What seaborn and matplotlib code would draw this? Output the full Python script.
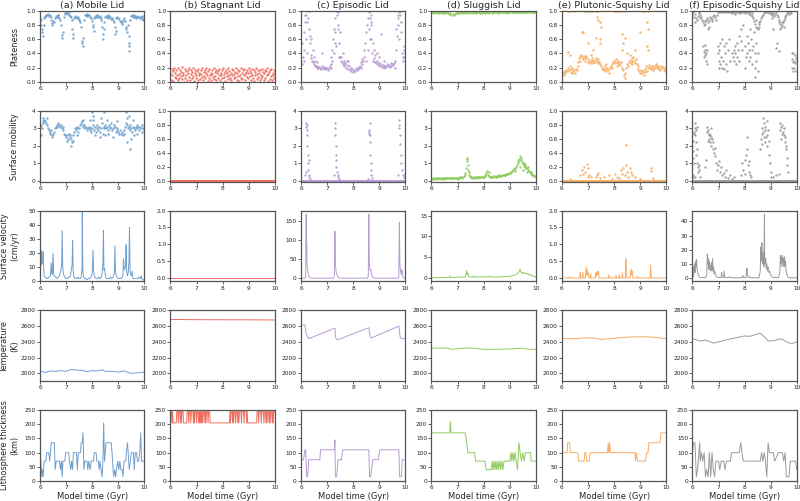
import numpy as np
import seaborn as sns
import matplotlib.pyplot as plt

# regimes and colours
regimes = ["(a) Mobile Lid", "(b) Stagnant Lid", "(c) Episodic Lid",
           "(d) Sluggish Lid", "(e) Plutonic-Squishy Lid", "(f) Episodic-Squishy Lid"]
colors = ["#6f9fce", "#ef6e5e", "#b79bd3", "#8fcb5d", "#f8ad62", "#9a9a9a"]
row_labels = ["Plateness", "Surface mobility", "Surface velocity\n(cm/yr)",
              "Temperature\n(K)", "Lithosphere thickness\n(km)"]

# ---------------- plateness (scatter): band on regular time grid + extra points
plate_mobile = """0.90 0.88 0.75 0.65 0.80 0.90 0.93 0.95 0.94 0.96 0.93 0.95 0.92 0.87 0.83 0.86 0.85 0.90
0.93 0.92 0.94 0.91 0.90 0.88 0.80 0.62 0.70 0.92 0.96 0.97 0.98 0.97 0.96 0.95 0.93 0.92 0.88 0.75
0.62 0.90 0.93 0.92 0.90 0.91 0.89 0.87 0.85 0.78 0.58 0.50 0.88 0.94 0.95 0.94 0.93 0.95 0.94 0.92
0.90 0.86 0.80 0.72 0.90 0.93 0.92 0.94 0.92 0.91 0.93 0.90 0.88 0.78 0.60 0.85 0.92 0.93 0.91 0.92
0.90 0.93 0.91 0.89 0.90 0.87 0.84 0.78 0.68 0.90 0.92 0.90 0.89 0.86 0.84 0.82 0.85 0.88 0.90 0.86
0.74 0.70 0.80 0.55 0.43 0.88 0.93 0.94 0.92 0.93 0.91 0.90 0.92 0.93 0.91 0.92 0.90 0.91 0.89 0.88
0.90 0.91"""
plate_mobile_extra = [(6.05, 0.8), (6.08, 0.7), (6.45, 0.8), (6.85, 0.66), (7.25, 0.68), (7.62, 0.55),
                      (7.65, 0.62), (8.05, 0.78), (8.42, 0.68), (8.44, 0.75), (8.9, 0.72), (9.3, 0.78),
                      (9.42, 0.5), (9.4, 0.65), (6.2, 0.91), (6.7, 0.95), (7.1, 0.98), (7.8, 0.96),
                      (8.2, 0.95), (8.6, 0.94), (9.6, 0.95), (9.9, 0.93)]

plate_stagnant = """0.12 0.03 0.18 0.09 0.15 0.01 0.20 0.07 0.13 0.05 0.17 0.10 0.02 0.19 0.11 0.06 0.16 0.08
0.14 0.04 0.21 0.09 0.12 0.00 0.18 0.06 0.15 0.10 0.03 0.17 0.13 0.07 0.19 0.02 0.11 0.16 0.05 0.14
0.08 0.20 0.01 0.12 0.17 0.06 0.10 0.15 0.03 0.18 0.09 0.13 0.04 0.16 0.11 0.07 0.19 0.02 0.14 0.08
0.17 0.05 0.12 0.20 0.10 0.01 0.15 0.06 0.18 0.09 0.13 0.03 0.16 0.11 0.07 0.19 0.04 0.14 0.08 0.17
0.02 0.12 0.15 0.06 0.10 0.18 0.03 0.13 0.09 0.16 0.05 0.20 0.11 0.07 0.14 0.01 0.17 0.08 0.12 0.04
0.19 0.10 0.15 0.06 0.13 0.02 0.18 0.09 0.16 0.05 0.11 0.14 0.07 0.20 0.03 0.12 0.17 0.08 0.15 0.01
0.10 0.19 0.06 0.13 0.04 0.16 0.09 0.18 0.02 0.11 0.14 0.07 0.17 0.05 0.12 0.20 0.08 0.15 0.03 0.13
0.10 0.18 0.06 0.16 0.01 0.14 0.09 0.19 0.04 0.11 0.17 0.07 0.13 0.02 0.16 0.10 0.05 0.18 0.08 0.14
0.03 0.12 0.17 0.06 0.15 0.09 0.19 0.01 0.11 0.14 0.04 0.16 0.08 0.18 0.02 0.13 0.10 0.06 0.17 0.12"""
plate_stagnant_extra = []

plate_episodic = """0.30 0.25 0.35 0.45 0.70 0.85 0.95 1.00 0.90 0.75 0.55 0.38 0.33 0.30 0.28 0.25 0.22 0.23
0.20 0.22 0.19 0.21 0.20 0.18 0.22 0.20 0.19 0.21 0.18 0.20 0.19 0.17 0.20 0.22 0.35 0.25 0.45 0.60
0.75 0.90 1.00 0.95 0.98 0.80 0.55 0.35 0.30 0.28 0.25 0.30 0.22 0.26 0.20 0.24 0.18 0.22 0.17 0.19
0.15 0.18 0.14 0.17 0.15 0.19 0.16 0.18 0.20 0.21 0.23 0.28 0.32 0.30 0.35 0.45 0.55 0.70 0.80 0.90
0.98 1.00 0.85 0.60 0.40 0.30 0.33 0.28 0.26 0.30 0.25 0.24 0.27 0.22 0.25 0.21 0.24 0.22 0.20 0.23
0.21 0.25 0.22 0.24 0.21 0.26 0.23 0.25 0.24 0.27 0.30 0.45 0.65 0.80 0.90 0.98 0.95 0.70 0.40 0.30
0.45 0.35 0.40"""
plate_episodic_extra = [(6.05, 0.55), (6.1, 0.3), (6.15, 0.95), (6.2, 0.6), (6.22, 0.4), (6.25, 0.85),
                        (6.3, 1.0), (6.35, 0.65), (6.4, 0.6), (6.45, 0.45), (6.5, 0.35), (6.55, 0.3),
                        (6.6, 0.28), (6.8, 0.4), (7.15, 0.2), (7.2, 0.3), (7.25, 0.4), (7.3, 0.55),
                        (7.32, 0.7), (7.35, 0.5), (7.4, 0.75), (7.42, 1.0), (7.45, 0.35), (7.5, 0.7),
                        (7.55, 0.35), (7.6, 0.4), (7.65, 0.25), (7.75, 0.3), (7.8, 0.3), (8.3, 0.2),
                        (8.35, 0.25), (8.5, 0.3), (8.55, 0.45), (8.6, 0.75), (8.63, 0.9), (8.65, 0.6),
                        (8.68, 0.95), (8.7, 0.8), (8.75, 0.55), (8.8, 0.45), (8.85, 0.38), (8.9, 0.4),
                        (9.0, 0.35), (9.05, 0.68), (9.2, 0.3), (9.6, 0.2), (9.65, 0.75), (9.7, 0.95),
                        (9.75, 0.6), (9.8, 1.0), (9.85, 0.85), (9.9, 0.35), (9.95, 0.5), (10.0, 0.3)]

plate_sluggish = """0.97 0.98 0.97 0.98 0.98 0.97 0.98 0.97 0.98 0.98 0.97 0.98 0.97 0.97 0.98 0.98 0.97 0.96
0.97 0.95 0.96 0.95 0.96 0.97 0.97 0.98 0.97 0.98 0.98 0.97 0.98 0.97 0.98 0.98 0.97 0.98 0.98 0.97
0.98 0.97 0.98 0.98 0.97 0.98 0.98 0.98 0.97 0.98 0.97 0.98 0.98 0.97 0.98 0.98 0.97 0.98 0.98 0.97
0.98 0.98 0.99 0.98 0.98 0.97 0.98 0.99 0.98 0.98 0.98 0.99 0.98 0.98 0.97 0.98 0.99 0.98 0.98 0.99
0.98 0.98 0.98 0.99 0.98 0.98 0.99 0.98 0.98 0.98 0.99 0.98 0.98 0.99 0.98 0.98 0.99 0.98 0.98 0.98
0.99 0.98"""
plate_sluggish_extra = []

plate_plutonic = """0.12 0.14 0.10 0.15 0.13 0.17 0.15 0.20 0.16 0.22 0.18 0.14 0.20 0.15 0.17 0.13 0.18 0.16
0.22 0.28 0.33 0.36 0.38 0.35 0.32 0.37 0.34 0.30 0.36 0.33 0.28 0.31 0.26 0.30 0.33 0.29 0.27 0.31
0.28 0.33 0.30 0.27 0.32 0.28 0.25 0.22 0.18 0.20 0.16 0.22 0.18 0.15 0.20 0.17 0.13 0.19 0.23 0.20
0.25 0.28 0.30 0.26 0.32 0.28 0.25 0.30 0.27 0.24 0.28 0.20 0.16 0.10 0.05 0.12 0.20 0.25 0.22 0.28
0.31 0.26 0.33 0.29 0.35 0.30 0.27 0.32 0.25 0.22 0.18 0.15 0.13 0.17 0.12 0.15 0.10 0.14 0.18 0.22
0.15 0.20 0.24 0.21 0.18 0.23 0.20 0.17 0.22 0.19 0.24 0.21 0.18 0.22 0.20 0.17 0.23 0.19 0.21 0.16
0.20 0.15 0.18"""
plate_plutonic_extra = [(6.25, 1.0), (6.28, 1.0), (6.32, 1.0), (6.45, 1.0), (6.48, 1.0), (6.85, 1.0),
                        (6.9, 1.0), (6.95, 1.0), (7.0, 1.0), (7.05, 1.0), (7.1, 1.0), (7.15, 1.0),
                        (7.2, 1.0), (7.3, 1.0), (7.35, 1.0), (7.4, 1.0), (8.0, 1.0), (8.05, 1.0),
                        (8.1, 1.0), (8.15, 1.0), (8.2, 1.0), (8.3, 1.0), (8.4, 1.0), (9.05, 1.0),
                        (9.1, 1.0), (9.15, 1.0), (9.2, 1.0), (9.3, 1.0), (7.35, 0.92), (7.4, 0.88),
                        (7.45, 0.85), (7.5, 0.78), (7.47, 0.6), (7.45, 0.55), (6.8, 0.7), (6.75, 0.7),
                        (6.25, 0.42), (6.3, 0.38), (7.0, 0.55), (7.2, 0.45), (7.3, 0.62), (8.3, 0.68),
                        (8.35, 0.55), (8.4, 0.62), (8.3, 0.45), (8.5, 0.4), (9.25, 0.5), (9.25, 0.85),
                        (9.28, 0.75), (9.0, 0.7), (9.3, 0.45), (8.8, 0.45), (8.6, 0.38), (6.7, 0.3),
                        (7.1, 0.38), (8.1, 0.22), (8.7, 0.25), (9.6, 0.25), (6.4, 0.12), (7.7, 0.25)]

plate_epi_squishy = """0.95 0.98 0.92 0.96 0.90 0.88 0.93 0.97 0.99 0.95 0.92 0.88 0.85 0.80 0.86 0.82 0.88 0.90
0.85 0.88 0.92 0.90 0.86 0.89 0.93 0.95 0.91 0.88 0.95 0.98 1.00 0.99 1.00 0.98 1.00 0.99 1.00 0.98
1.00 0.99 1.00 0.98 1.00 0.99 1.00 0.97 0.99 1.00 0.98 0.96 0.99 1.00 0.98 0.99 1.00 0.97 0.99 1.00
0.98 1.00 0.99 0.97 1.00 0.98 0.99 0.96 0.98 0.95 0.97 0.93 0.90 0.86 0.82 0.78 0.76 0.74 0.78 0.82
0.86 0.90 0.93 0.95 0.97 0.99 1.00 0.98 0.99 1.00 0.97 0.99 0.96 0.98 0.95 0.97 0.93 0.96 0.98 0.95
0.92 0.88 0.85 0.82 0.78 0.80 0.84 0.87 0.90 0.93 0.95 0.97 0.98 0.96 0.99 0.97 0.40 0.32 0.28 0.30
0.26 0.33 0.29"""
plate_epi_squishy_extra = [(6.42, 0.5), (6.44, 0.42), (6.45, 0.35), (6.47, 0.45), (6.48, 0.38), (6.5, 0.52),
                           (6.52, 0.4), (6.53, 0.3), (6.55, 0.25), (6.56, 0.45), (6.6, 0.75), (6.65, 0.78),
                           (6.97, 0.5), (6.98, 0.4), (7.0, 0.3), (7.0, 0.2), (7.02, 0.45), (7.05, 0.25),
                           (7.07, 0.55), (7.1, 0.35), (7.12, 0.6), (7.15, 0.2), (7.18, 0.3), (7.2, 0.5),
                           (7.22, 0.18), (7.25, 0.4), (7.27, 0.55), (7.3, 0.25), (7.33, 0.15), (7.35, 0.45),
                           (7.4, 0.6), (7.45, 0.3), (7.5, 0.4), (7.55, 0.35), (7.58, 0.45), (7.6, 0.3),
                           (7.62, 0.5), (7.65, 0.4), (7.68, 0.25), (7.7, 0.35), (7.72, 0.55), (7.75, 0.45),
                           (7.78, 0.65), (7.8, 0.3), (7.85, 0.75), (7.88, 0.58), (7.9, 0.45), (7.95, 0.8),
                           (8.0, 0.5), (8.02, 0.2), (8.05, 0.35), (8.08, 0.65), (8.1, 0.4), (8.12, 0.55),
                           (8.15, 0.3), (8.18, 0.45), (8.2, 0.75), (8.22, 0.35), (8.25, 0.6), (8.28, 0.25),
                           (8.3, 0.45), (8.32, 0.5), (8.35, 0.7), (8.38, 0.4), (8.4, 0.2), (8.42, 0.55),
                           (8.45, 0.3), (8.5, 0.15), (8.52, 0.4), (8.38, 0.07), (9.22, 0.48), (9.25, 0.55),
                           (9.3, 0.43), (9.35, 0.75), (9.05, 0.9), (9.1, 0.75), (9.82, 0.2), (9.85, 0.15),
                           (9.87, 0.4), (9.9, 0.2), (9.95, 0.38), (9.98, 0.15), (6.1, 0.85), (6.3, 0.9),
                           (8.45, 0.88), (8.55, 0.85), (9.5, 0.78), (9.45, 0.85)]

# ---------------- surface mobility (scatter)
mob_mobile = """3.1 3.2 3.0 3.3 3.4 3.5 3.4 3.3 3.2 3.0 2.9 2.8 2.7 2.9 2.6 2.7 2.8 3.0 3.1 3.2 3.1 3.3 3.2
3.1 3.2 3.0 3.1 2.9 2.7 2.6 2.5 2.6 2.4 2.7 2.5 2.6 2.4 2.2 2.6 2.8 3.0 2.9 3.1 3.0 2.8 3.0 3.2 3.3
3.4 3.2 3.1 3.2 3.0 3.1 2.9 3.0 3.1 2.9 3.0 2.8 3.0 3.2 2.9 3.1 2.8 3.0 3.2 2.9 3.1 2.8 3.0 3.3 2.7
3.1 3.0 3.2 3.0 3.1 2.9 3.2 3.0 3.1 3.3 2.9 3.0 3.2 3.1 2.8 3.0 2.9 2.8 2.7 2.9 2.7 2.8 2.6 2.7 2.9
3.1 3.3 3.2 3.0 3.1 2.9 3.2 3.0 2.8 3.1 3.0 2.9 3.1 3.2 3.0 3.1 2.9 3.1 3.0 3.2 3.0 2.9 3.0"""
mob_mobile_extra = [(6.05, 2.6), (6.1, 3.6), (7.2, 2.0), (7.25, 2.3), (8.0, 3.95), (8.02, 3.7), (8.05, 3.5),
                    (8.3, 2.5), (8.35, 3.6), (8.45, 3.95), (8.5, 2.6), (8.55, 3.5), (8.8, 2.5), (8.95, 3.4),
                    (9.3, 3.95), (9.32, 3.6), (9.35, 2.2), (9.4, 3.7), (9.45, 1.8), (9.5, 2.4), (9.55, 3.5),
                    (9.6, 2.6), (9.7, 2.7), (9.9, 2.8), (8.6, 2.7), (8.1, 2.6), (7.9, 3.5), (6.25, 3.6),
                    (6.45, 2.5), (7.05, 2.3), (7.4, 2.6), (7.65, 3.5)]

mob_stagnant = [0.0] * 300
mob_stagnant_extra = []

mob_episodic = [0.0] * 241
mob_episodic_extra = [(6.2, 3.3), (6.21, 3.1), (6.22, 2.9), (6.23, 2.6), (6.24, 3.2), (6.25, 2.0), (6.26, 1.5),
                      (6.27, 1.0), (6.28, 0.6), (6.29, 1.2), (6.3, 0.3), (6.32, 0.2), (6.18, 0.5), (6.15, 0.3),
                      (6.35, 0.1), (7.3, 3.3), (7.31, 3.0), (7.32, 2.6), (7.33, 2.0), (7.34, 1.5), (7.35, 1.2),
                      (7.36, 0.8), (7.38, 0.5), (7.4, 0.3), (7.42, 0.2), (7.45, 0.1), (7.28, 0.3), (8.6, 2.8),
                      (8.61, 2.7), (8.62, 2.9), (8.63, 3.3), (8.64, 2.6), (8.65, 2.2), (8.66, 1.5), (8.67, 1.0),
                      (8.68, 0.6), (8.7, 0.3), (8.72, 0.15), (8.58, 0.1), (9.75, 3.5), (9.76, 3.2), (9.77, 3.0),
                      (9.78, 2.6), (9.8, 2.1), (9.82, 1.5), (9.84, 1.0), (9.86, 0.6), (9.9, 0.3), (9.93, 0.2),
                      (9.97, 0.4), (10.0, 0.15), (9.72, 0.3)]

mob_sluggish = """0.12 0.10 0.15 0.13 0.11 0.14 0.16 0.12 0.13 0.15 0.14 0.12 0.16 0.13 0.15 0.17 0.14 0.16
0.15 0.13 0.17 0.14 0.16 0.18 0.15 0.17 0.16 0.14 0.18 0.16 0.18 0.17 0.15 0.19 0.20 0.18 0.22 0.25
0.30 0.45 0.70 1.30 0.60 0.35 0.25 0.22 0.20 0.18 0.20 0.17 0.19 0.21 0.18 0.20 0.22 0.19 0.21 0.23
0.20 0.24 0.22 0.25 0.30 0.45 0.55 0.35 0.25 0.22 0.24 0.20 0.22 0.25 0.23 0.26 0.24 0.27 0.25 0.28
0.30 0.27 0.29 0.32 0.30 0.33 0.35 0.32 0.36 0.38 0.40 0.42 0.45 0.48 0.52 0.55 0.60 0.65 0.72 0.80
0.90 1.00 1.10 1.25 1.40 1.20 1.05 0.95 0.85 0.90 0.80 0.70 0.75 0.60 0.55 0.50 0.45 0.40 0.35 0.32
0.28 0.25 0.22"""
mob_sluggish_extra = [(7.35, 1.25), (7.38, 1.1), (7.4, 0.9), (7.42, 0.5), (8.2, 0.5), (9.35, 1.2), (9.4, 0.8),
                      (9.45, 1.3), (9.5, 0.6), (9.55, 1.0), (9.6, 0.9), (9.65, 0.5), (9.7, 0.8),
                      (6.5, 0.1), (7.0, 0.12), (8.5, 0.2), (9.2, 0.55), (9.8, 0.5)]

mob_plutonic = [0.0] * 241
mob_plutonic_extra = [(6.3, 0.03), (6.7, 0.08), (6.75, 0.15), (6.8, 0.1), (6.85, 0.2), (6.9, 0.12), (6.95, 0.24),
                      (6.98, 0.18), (7.0, 0.05), (7.05, 0.08), (7.1, 0.06), (7.3, 0.05), (7.35, 0.08), (7.4, 0.11),
                      (7.45, 0.04), (7.6, 0.05), (7.8, 0.08), (7.9, 0.03), (8.05, 0.1), (8.1, 0.06), (8.2, 0.04),
                      (8.25, 0.15), (8.3, 0.1), (8.35, 0.18), (8.4, 0.08), (8.45, 0.51), (8.47, 0.22),
                      (8.5, 0.12), (8.55, 0.06), (8.6, 0.18), (8.65, 0.13), (8.7, 0.08), (8.8, 0.05),
                      (9.0, 0.03), (9.4, 0.18), (9.42, 0.14), (9.5, 0.04)]

mob_epi_squishy = [0.0] * 241
mob_epi_squishy_extra = [(6.0, 2.0), (6.01, 1.7), (6.02, 2.3), (6.03, 1.3), (6.05, 2.7), (6.06, 1.0), (6.07, 2.8),
                         (6.08, 3.0), (6.1, 3.3), (6.11, 2.6), (6.12, 2.2), (6.13, 1.5), (6.15, 2.9), (6.16, 3.1),
                         (6.17, 1.8), (6.18, 1.0), (6.2, 0.8), (6.22, 0.5), (6.25, 0.9), (6.27, 0.6), (6.3, 0.2),
                         (6.02, 0.3), (6.04, 0.2), (6.1, 0.2), (6.5, 0.8), (6.52, 1.2), (6.55, 2.8), (6.57, 3.1),
                         (6.6, 2.9), (6.62, 2.6), (6.63, 2.4), (6.65, 2.7), (6.67, 2.2), (6.7, 3.0), (6.72, 2.5),
                         (6.73, 2.0), (6.75, 2.4), (6.77, 1.8), (6.8, 2.2), (6.82, 1.6), (6.85, 1.9), (6.87, 1.4),
                         (6.9, 1.0), (6.6, 2.3), (6.68, 2.6), (6.95, 0.6), (6.98, 0.9), (7.02, 1.1), (7.05, 0.5),
                         (7.1, 0.8), (7.15, 0.3), (7.2, 0.45), (7.25, 0.2), (7.3, 0.6), (7.35, 0.15), (7.45, 0.3),
                         (7.5, 0.1), (7.6, 0.2), (7.85, 0.3), (7.9, 1.0), (7.95, 0.6), (8.0, 1.2), (8.05, 1.5),
                         (8.08, 1.8), (8.1, 2.5), (8.12, 0.9), (8.15, 0.5), (8.17, 1.1), (8.2, 0.3), (8.25, 0.2),
                         (8.02, 0.4), (8.6, 1.8), (8.62, 2.4), (8.65, 2.7), (8.67, 3.0), (8.7, 3.6), (8.72, 2.8),
                         (8.74, 3.3), (8.75, 2.5), (8.77, 3.1), (8.78, 2.2), (8.8, 2.9), (8.82, 2.5), (8.84, 3.4),
                         (8.85, 2.0), (8.87, 2.6), (8.9, 2.9), (8.92, 2.3), (8.95, 1.5), (8.97, 1.0), (9.0, 0.5),
                         (9.03, 0.2), (8.68, 2.1), (9.35, 2.9), (9.37, 3.3), (9.4, 3.1), (9.42, 2.7), (9.45, 3.2),
                         (9.47, 2.8), (9.5, 2.6), (9.52, 3.0), (9.53, 2.2), (9.55, 2.5), (9.57, 1.8), (9.6, 2.0),
                         (9.62, 1.3), (9.63, 0.9), (9.65, 0.5), (9.4, 2.4), (9.3, 0.4), (9.2, 0.3), (9.1, 0.2)]

# ---------------- surface velocity (lines), (time, cm/yr)
vel_mobile = [(6.00, 1), (6.02, 5), (6.04, 22), (6.06, 12), (6.08, 14), (6.10, 13), (6.12, 21), (6.14, 9),
              (6.16, 4), (6.20, 3), (6.25, 2), (6.30, 2), (6.35, 3), (6.40, 4), (6.43, 13), (6.45, 6), (6.47, 5),
              (6.50, 20), (6.52, 6), (6.55, 4), (6.60, 3), (6.65, 2), (6.70, 3), (6.75, 4), (6.80, 8), (6.83, 12),
              (6.85, 36), (6.87, 10), (6.90, 5), (6.95, 3), (7.00, 2), (7.05, 2), (7.10, 3), (7.15, 3), (7.20, 8),
              (7.23, 12), (7.25, 29), (7.27, 8), (7.30, 3), (7.35, 2), (7.40, 2), (7.45, 3), (7.50, 2), (7.55, 2),
              (7.58, 3), (7.61, 10), (7.62, 50), (7.64, 8), (7.67, 3), (7.70, 2), (7.75, 2), (7.80, 1), (7.85, 2),
              (7.90, 2), (7.95, 3), (8.00, 6), (8.03, 22), (8.05, 8), (8.08, 4), (8.10, 3), (8.15, 2), (8.20, 2),
              (8.25, 3), (8.30, 2), (8.35, 3), (8.38, 6), (8.41, 12), (8.43, 36), (8.45, 8), (8.48, 9), (8.50, 5),
              (8.52, 3), (8.55, 2), (8.60, 2), (8.65, 2), (8.70, 3), (8.75, 2), (8.80, 3), (8.85, 6), (8.87, 25),
              (8.89, 8), (8.92, 4), (8.95, 3), (9.00, 2), (9.05, 2), (9.10, 2), (9.15, 3), (9.18, 5), (9.20, 16),
              (9.22, 10), (9.25, 8), (9.28, 12), (9.30, 26), (9.32, 7), (9.35, 4), (9.38, 6), (9.41, 15),
              (9.43, 38), (9.45, 8), (9.47, 5), (9.50, 4), (9.53, 7), (9.55, 3), (9.57, 2), (9.60, 2), (9.65, 2),
              (9.70, 2), (9.75, 2), (9.80, 3), (9.85, 2), (9.88, 4), (9.90, 2), (9.95, 1), (10.0, 1)]
vel_stagnant = [(6.0, 0.0), (10.0, 0.0)]
vel_episodic = [(6.00, 0), (6.15, 0), (6.18, 2), (6.20, 167), (6.21, 60), (6.22, 93), (6.23, 40), (6.25, 25),
                (6.27, 12), (6.30, 5), (6.35, 1), (6.40, 0), (7.25, 0), (7.28, 5), (7.30, 122), (7.32, 40),
                (7.34, 20), (7.37, 12), (7.40, 5), (7.45, 1), (7.50, 0), (8.55, 0), (8.58, 5), (8.60, 167),
                (8.62, 40), (8.63, 30), (8.65, 20), (8.68, 22), (8.70, 10), (8.75, 3), (8.80, 0), (9.72, 0),
                (9.75, 5), (9.77, 146), (9.79, 40), (9.81, 20), (9.84, 10), (9.86, 22), (9.88, 20), (9.90, 5),
                (9.93, 0), (10.0, 0)]
vel_sluggish = [(6.00, 0.1), (6.30, 0.15), (6.60, 0.2), (6.68, 0.2), (6.70, 0.6), (6.72, 0.2), (7.00, 0.25),
                (7.30, 0.3), (7.33, 1.2), (7.35, 1.8), (7.37, 0.8), (7.40, 1.2), (7.42, 0.5), (7.50, 0.3),
                (7.60, 0.3), (7.62, 0.5), (7.65, 0.3), (7.90, 0.3), (8.00, 0.4), (8.05, 0.3), (8.20, 0.35),
                (8.22, 0.45), (8.30, 0.3), (8.60, 0.3), (8.80, 0.4), (9.00, 0.5), (9.10, 0.6), (9.20, 0.8),
                (9.30, 1.1), (9.35, 1.5), (9.40, 2.2), (9.43, 1.6), (9.47, 1.2), (9.50, 1.4), (9.55, 1.1),
                (9.60, 1.3), (9.65, 1.0), (9.70, 1.1), (9.75, 0.8), (9.80, 0.9), (9.85, 0.6), (9.90, 0.5),
                (9.95, 0.4), (10.0, 0.3)]
vel_plutonic = [(6.00, 0), (6.28, 0), (6.30, 0.05), (6.32, 0), (6.68, 0), (6.70, 0.18), (6.72, 0), (6.78, 0),
                (6.80, 0.18), (6.82, 0), (6.90, 0), (6.93, 0.33), (6.95, 0.1), (6.97, 0.25), (6.99, 0.08),
                (7.02, 0.15), (7.04, 0), (7.08, 0), (7.10, 0.12), (7.12, 0), (7.28, 0), (7.30, 0.15), (7.32, 0.05),
                (7.35, 0.2), (7.38, 0.1), (7.40, 0.2), (7.42, 0), (7.78, 0), (7.80, 0.1), (7.82, 0), (8.05, 0),
                (8.07, 0.08), (8.09, 0), (8.18, 0), (8.20, 0.1), (8.22, 0), (8.30, 0), (8.32, 0.15), (8.34, 0),
                (8.43, 0), (8.45, 0.57), (8.47, 0.1), (8.50, 0), (8.62, 0), (8.64, 0.2), (8.66, 0.25), (8.68, 0.1),
                (8.70, 0.2), (8.72, 0), (8.88, 0), (8.90, 0.05), (8.92, 0), (9.38, 0), (9.40, 0.38), (9.42, 0),
                (10.0, 0)]
vel_epi_squishy = [(6.00, 3), (6.02, 8), (6.04, 1), (6.06, 6), (6.08, 10), (6.10, 4), (6.12, 12), (6.14, 8),
                   (6.16, 13), (6.18, 6), (6.20, 4), (6.23, 2), (6.26, 1), (6.30, 0.5), (6.40, 0.5), (6.50, 0.5),
                   (6.55, 2), (6.57, 17), (6.59, 10), (6.61, 14), (6.63, 6), (6.65, 12), (6.67, 7), (6.69, 9),
                   (6.71, 5), (6.73, 11), (6.75, 6), (6.77, 14), (6.79, 5), (6.81, 8), (6.83, 3), (6.86, 5),
                   (6.89, 2), (6.92, 1), (7.00, 0.5), (7.10, 0.5), (7.12, 4), (7.14, 1), (7.20, 0.5), (7.22, 5),
                   (7.24, 0.5), (7.40, 0.5), (7.45, 1), (7.50, 0.3), (7.90, 0.3), (7.93, 2), (7.96, 0.5),
                   (8.05, 0.5), (8.07, 4), (8.09, 7), (8.11, 2), (8.15, 0.5), (8.20, 1), (8.25, 0.3), (8.55, 0.3),
                   (8.60, 5), (8.62, 22), (8.64, 12), (8.66, 25), (8.68, 14), (8.70, 10), (8.72, 18), (8.74, 8),
                   (8.76, 45), (8.77, 12), (8.79, 10), (8.81, 14), (8.83, 7), (8.85, 10), (8.87, 5), (8.90, 8),
                   (8.93, 4), (8.96, 5), (9.00, 2), (9.05, 1), (9.10, 0.5), (9.30, 0.5), (9.35, 4), (9.37, 16),
                   (9.39, 10), (9.41, 15), (9.43, 8), (9.45, 16), (9.47, 11), (9.49, 14), (9.51, 8), (9.53, 15),
                   (9.55, 9), (9.57, 12), (9.59, 5), (9.62, 3), (9.65, 1), (9.70, 0.5), (9.80, 0.3), (10.0, 0.3)]

# ---------------- mantle temperature (lines), (time, K)
temp_mobile = [(6.0, 2030), (6.2, 2010), (6.4, 2030), (6.6, 2025), (6.8, 2035), (7.0, 2025), (7.2, 2050),
               (7.4, 2040), (7.6, 2040), (7.8, 2020), (8.0, 2035), (8.2, 2030), (8.4, 2045), (8.5, 2025),
               (8.8, 2025), (9.0, 2015), (9.2, 2030), (9.35, 2015), (9.5, 2000), (9.7, 2005), (10.0, 2015)]
temp_stagnant = [(6.0, 2685), (7.0, 2682), (8.0, 2681), (9.0, 2680), (10.0, 2678)]
temp_episodic = [(6.0, 2610), (6.15, 2620), (6.2, 2500), (6.3, 2440), (7.3, 2575), (7.33, 2450), (7.4, 2425),
                 (8.6, 2580), (8.65, 2470), (8.7, 2450), (9.75, 2600), (9.8, 2460), (9.85, 2440), (10.0, 2440)]
temp_sluggish = [(6.0, 2320), (6.6, 2320), (6.8, 2305), (7.2, 2320), (7.6, 2320), (8.0, 2305), (8.5, 2305),
                 (9.0, 2310), (9.5, 2320), (9.7, 2305), (10.0, 2305)]
temp_plutonic = [(6.0, 2440), (6.5, 2440), (6.8, 2450), (7.2, 2450), (7.5, 2430), (8.0, 2445), (8.5, 2460),
                 (9.0, 2465), (9.5, 2460), (10.0, 2440)]
temp_epi_squishy = [(6.0, 2440), (6.3, 2410), (6.5, 2425), (6.8, 2385), (7.0, 2400), (7.5, 2440), (8.0, 2475),
                    (8.2, 2470), (8.5, 2500), (8.6, 2510), (8.8, 2450), (8.9, 2410), (9.1, 2415), (9.4, 2440),
                    (9.6, 2400), (9.8, 2375), (10.0, 2400)]

# ---------------- lithosphere thickness (lines), (time, km)
lith_mobile = [(6.00, 100), (6.03, 70), (6.07, 15), (6.10, 40), (6.12, 15), (6.16, 70), (6.22, 70), (6.26, 100),
               (6.34, 100), (6.37, 70), (6.40, 100), (6.43, 135), (6.55, 135), (6.58, 40), (6.62, 70), (6.75, 70),
               (6.78, 40), (6.82, 70), (6.85, 15), (6.88, 70), (6.95, 70), (6.98, 100), (7.10, 100), (7.13, 70),
               (7.18, 40), (7.21, 70), (7.25, 40), (7.28, 100), (7.40, 100), (7.43, 40), (7.47, 100), (7.55, 100),
               (7.58, 135), (7.62, 135), (7.64, 170), (7.66, 135), (7.68, 40), (7.72, 70), (7.80, 70), (7.83, 40),
               (7.87, 70), (7.92, 40), (7.96, 70), (8.05, 70), (8.08, 100), (8.15, 100), (8.18, 70), (8.24, 70),
               (8.27, 40), (8.30, 70), (8.34, 40), (8.38, 15), (8.41, 70), (8.44, 205), (8.47, 70), (8.50, 100),
               (8.53, 135), (8.73, 135), (8.76, 100), (8.80, 40), (8.83, 15), (8.86, 40), (8.90, 15), (8.93, 40),
               (8.98, 70), (9.02, 40), (9.06, 70), (9.10, 40), (9.15, 40), (9.18, 15), (9.22, 70), (9.28, 70),
               (9.31, 100), (9.35, 135), (9.38, 100), (9.42, 40), (9.46, 70), (9.50, 100), (9.58, 100), (9.61, 40),
               (9.65, 100), (9.70, 100), (9.73, 70), (9.78, 70), (9.82, 100), (9.86, 170), (9.89, 70), (10.0, 70)]
lith_stagnant = [(6.00, 205), (6.02, 245), (6.04, 245), (6.06, 205), (6.08, 245), (6.10, 205), (6.22, 205),
                 (6.24, 245), (6.28, 245), (6.30, 205), (6.32, 245), (6.36, 245), (6.38, 205), (6.40, 245),
                 (6.42, 205), (6.44, 245), (6.48, 245), (6.50, 205), (6.62, 205), (6.64, 245), (6.68, 245),
                 (6.70, 205), (6.72, 245), (6.76, 245), (6.78, 205), (6.80, 245), (6.86, 245), (6.88, 205),
                 (6.90, 245), (6.92, 205), (6.94, 245), (6.98, 245), (7.00, 205), (7.02, 245), (7.06, 245),
                 (7.08, 205), (7.10, 245), (7.12, 205), (7.14, 245), (7.16, 205), (7.18, 245), (7.20, 205),
                 (7.22, 245), (7.24, 205), (7.26, 245), (7.30, 245), (7.32, 205), (7.34, 245), (7.36, 205),
                 (7.38, 245), (7.42, 245), (7.44, 205), (7.46, 245), (7.50, 245), (7.52, 205), (8.26, 205),
                 (8.28, 245), (8.30, 205), (8.32, 245), (8.36, 245), (8.38, 205), (8.40, 245), (8.42, 205),
                 (8.44, 245), (8.48, 245), (8.50, 205), (8.52, 245), (8.56, 245), (8.58, 205), (8.60, 245),
                 (8.62, 205), (8.64, 245), (8.70, 245), (8.72, 205), (8.74, 245), (8.80, 245), (8.82, 205),
                 (8.84, 245), (8.90, 245), (8.92, 205), (8.94, 245), (8.96, 205), (9.30, 205), (9.32, 245),
                 (9.36, 245), (9.38, 205), (9.40, 245), (9.46, 245), (9.48, 205), (9.50, 245), (9.56, 245),
                 (9.58, 205), (9.60, 245), (9.64, 245), (9.66, 205), (9.68, 245), (9.70, 205), (9.72, 245),
                 (9.76, 245), (9.78, 205), (9.80, 245), (9.82, 205), (9.84, 245), (9.88, 245), (9.90, 205),
                 (9.92, 245), (9.94, 205), (9.96, 245), (10.0, 245)]
lith_episodic = [(6.00, 75), (6.10, 75), (6.15, 110), (6.18, 110), (6.22, 15), (6.25, 15), (6.30, 75), (6.72, 75),
                 (6.75, 110), (7.28, 110), (7.30, 145), (7.32, 15), (7.37, 15), (7.42, 75), (7.55, 75), (7.60, 110),
                 (8.60, 110), (8.63, 15), (8.67, 15), (8.75, 75), (8.97, 75), (9.02, 110), (9.75, 110), (9.78, 15),
                 (9.85, 15), (9.88, 75), (10.0, 75)]
lith_sluggish = [(6.00, 170), (6.70, 170), (6.72, 210), (6.75, 170), (7.30, 170), (7.35, 135), (7.40, 100),
                 (7.65, 100), (7.70, 70), (8.05, 70), (8.10, 40), (8.30, 40), (8.33, 70), (8.36, 40), (8.40, 70),
                 (8.43, 40), (8.47, 70), (8.50, 40), (8.55, 70), (8.58, 40), (8.62, 70), (8.66, 40), (8.70, 70),
                 (8.74, 40), (8.78, 70), (9.00, 70), (9.05, 100), (9.08, 70), (9.12, 100), (9.16, 70), (9.20, 100),
                 (9.25, 70), (9.30, 40), (9.35, 135), (9.40, 100), (9.45, 70), (9.50, 100), (9.55, 70),
                 (9.60, 100), (9.80, 100), (9.82, 70), (10.0, 70)]
lith_plutonic = [(6.00, 135), (6.03, 100), (6.20, 100), (6.22, 135), (6.30, 135), (6.32, 100), (6.60, 100),
                 (6.65, 70), (6.85, 70), (6.88, 100), (6.92, 100), (6.95, 70), (7.05, 70), (7.08, 100), (7.75, 100),
                 (7.77, 135), (7.80, 100), (7.83, 135), (7.85, 100), (8.80, 100), (8.82, 70), (8.85, 100),
                 (8.90, 70), (9.20, 70), (9.25, 100), (9.30, 100), (9.33, 135), (9.75, 135), (9.80, 170),
                 (10.0, 170)]
lith_epi_squishy = [(6.00, 100), (6.05, 135), (6.10, 135), (6.15, 15), (6.20, 40), (6.25, 100), (6.28, 135),
                    (6.30, 70), (6.35, 100), (6.40, 70), (6.45, 100), (6.50, 15), (6.55, 40), (6.60, 15),
                    (6.65, 100), (6.70, 15), (6.75, 100), (6.80, 40), (6.85, 15), (6.90, 70), (7.00, 70),
                    (7.05, 40), (7.10, 70), (7.20, 70), (7.25, 40), (7.30, 70), (7.45, 70), (7.50, 100),
                    (7.80, 100), (7.85, 135), (7.90, 100), (7.95, 70), (8.60, 70), (8.65, 100), (8.70, 70),
                    (8.75, 100), (8.80, 70), (8.85, 15), (8.90, 135), (8.95, 100), (9.10, 100), (9.15, 70),
                    (9.30, 100), (9.45, 100), (9.50, 70), (9.55, 100), (9.60, 15), (9.70, 15), (9.75, 70),
                    (9.95, 70), (10.0, 40)]

# axis settings per row / column
scatter_rows = [
    [(plate_mobile, plate_mobile_extra), (plate_stagnant, plate_stagnant_extra),
     (plate_episodic, plate_episodic_extra), (plate_sluggish, plate_sluggish_extra),
     (plate_plutonic, plate_plutonic_extra), (plate_epi_squishy, plate_epi_squishy_extra)],
    [(mob_mobile, mob_mobile_extra), (mob_stagnant, mob_stagnant_extra),
     (mob_episodic, mob_episodic_extra), (mob_sluggish, mob_sluggish_extra),
     (mob_plutonic, mob_plutonic_extra), (mob_epi_squishy, mob_epi_squishy_extra)],
]
line_rows = [
    [vel_mobile, vel_stagnant, vel_episodic, vel_sluggish, vel_plutonic, vel_epi_squishy],
    [temp_mobile, temp_stagnant, temp_episodic, temp_sluggish, temp_plutonic, temp_epi_squishy],
    [lith_mobile, lith_stagnant, lith_episodic, lith_sluggish, lith_plutonic, lith_epi_squishy],
]

ylims = [
    [(0, 1.0)] * 6,
    [(-0.05, 4), (-0.01, 1.0), (-0.05, 4), (-0.05, 4), (-0.01, 1.0), (-0.05, 4)],
    [(0, 50), (-0.1, 2.0), (-8.4, 176), (-0.75, 16.2), (-0.1, 2.0), (-2.2, 47.5)],
    [(1900, 2800)] * 6,
    [(0, 250)] * 6,
]
yticks = [
    [np.arange(0, 1.01, 0.2)] * 6,
    [range(5), np.arange(0, 1.01, 0.2), range(5), range(5), np.arange(0, 1.01, 0.2), range(5)],
    [range(0, 51, 10), np.arange(0, 2.01, 0.5), range(0, 151, 50), range(0, 16, 5),
     np.arange(0, 2.01, 0.5), range(0, 41, 10)],
    [range(2000, 2801, 200)] * 6,
    [range(0, 251, 50)] * 6,
]


def parse(vals):
    if isinstance(vals, str):
        return np.array(vals.split(), dtype=float)
    return np.asarray(vals, dtype=float)


sns.set_theme(style="ticks")
plt.rcParams['font.family'] = ['DejaVu Sans']

fig, axes = plt.subplots(5, 6, figsize=(8.0, 5.01), dpi=100)
fig.subplots_adjust(left=0.05, right=0.996, top=0.978, bottom=0.04, wspace=0.25, hspace=0.41)

for r in range(5):
    for c in range(6):
        ax = axes[r, c]
        col = colors[c]
        if r < 2:
            band, extra = scatter_rows[r][c]
            yv = parse(band)
            tv = np.linspace(6, 10, len(yv))
            if extra:
                ex = np.array(extra, dtype=float)
                tv = np.concatenate([tv, ex[:, 0]])
                yv = np.concatenate([yv, ex[:, 1]])
            sns.scatterplot(x=tv, y=yv, ax=ax, color=col, s=3, linewidth=0, alpha=0.9)
        else:
            pts = np.array(line_rows[r - 2][c], dtype=float)
            sns.lineplot(x=pts[:, 0], y=pts[:, 1], ax=ax, color=col, lw=0.7,
                         sort=False, estimator=None)
        ax.set_xlim(6, 10)
        ax.set_xticks(range(6, 11))
        ax.set_ylim(*ylims[r][c])
        ax.set_yticks(list(yticks[r][c]))
        if r < 2 and ylims[r][c][1] <= 1.0:
            ax.set_yticklabels([f"{v:.1f}" for v in yticks[r][c]])
        if r == 2 and c in (1, 4):
            ax.set_yticklabels([f"{v:.1f}" for v in yticks[r][c]])
        ax.tick_params(labelsize=4.2, length=2, width=0.5, pad=1, colors="#222222")
        for sp in ax.spines.values():
            sp.set_color("#555555")
            sp.set_linewidth(0.9)
            sp.set_visible(True)
        ax.set_xlabel("")
        ax.set_ylabel("")
        if r == 0:
            ax.set_title(regimes[c], fontsize=6.8, pad=2)
        if c == 0:
            ax.set_ylabel(row_labels[r], fontsize=5.9, linespacing=1.1)
            ax.yaxis.set_label_coords(-0.2, 0.5)
        if r == 4:
            ax.set_xlabel("Model time (Gyr)", fontsize=6.0, labelpad=1)

fig.savefig("out.png", dpi=100)
